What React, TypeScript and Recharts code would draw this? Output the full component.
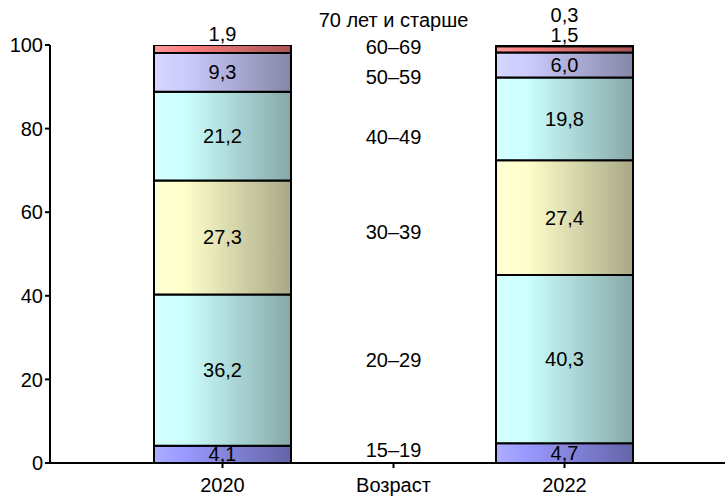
import React from 'react';
import {
  ComposedChart,
  Bar,
  XAxis,
  YAxis,
  ReferenceDot,
  LabelList
} from 'recharts';

// Categories on the x axis (the middle one only carries the age captions)
const YEARS = ['2020', 'Возраст', '2022'];
const AGE_GROUPS = ['15–19', '20–29', '30–39', '40–49', '50–59', '60–69', '70 лет и старше'];

// Share of each age group, %
const SHARE_2020 = [4.1, 36.2, 27.3, 21.2, 9.3, 1.9, null];
const SHARE_2022 = [4.7, 40.3, 27.4, 19.8, 6.0, 1.5, 0.3];

// Height (in % units) at which each age caption sits in the middle column
const AGE_CAPTION_LEVEL = [3.1, 24.6, 55.3, 78, 92.3, 99.5, 106];

const Y_TICKS = [0, 20, 40, 60, 80, 100];

// base / shaded colour for each segment
const SEGMENT_COLORS = [
  ['#9999ff', '#6464a8'],
  ['#ccffff', '#86a8a8'],
  ['#ffffcc', '#a8a886'],
  ['#ccffff', '#86a8a8'],
  ['#ccccff', '#8686a8'],
  ['#ff8080', '#a85454'],
  ['#ffcc99', '#a88664']
];

const FONT = '"Liberation Sans", Arial, sans-serif';
const FS = 20;

const data = YEARS.map((year, i) => {
  const row: Record<string, any> = { year };
  AGE_GROUPS.forEach((_, k) => {
    if (i === 0) row['g' + k] = SHARE_2020[k];
    if (i === 2) row['g' + k] = SHARE_2022[k];
  });
  return row;
});

const fmt = (v: number) => v.toFixed(1).replace('.', ',');

// small segments get their value written above the bar
const makeLabel = (k: number) => (props: any) => {
  const { x, y, width, height, value } = props;
  if (value === null || value === undefined) return null;
  let ty = y + height / 2;
  if (value < 3) ty = k === 6 ? y - 30 : y - 11;
  return (
    <text
      x={x + width / 2}
      y={ty}
      textAnchor="middle"
      dominantBaseline="central"
      fontSize={FS}
      fontFamily={FONT}
      fill="#000"
    >
      {fmt(value)}
    </text>
  );
};

export default function App() {
  return (
    <div style={{ position: 'absolute', left: 0, top: 0, background: '#fff' }}>
      <ComposedChart
        width={725}
        height={497}
        data={data}
        margin={{ top: 45, right: 0, bottom: 0, left: 0 }}
        barCategoryGap={0}
      >
        <defs>
          {SEGMENT_COLORS.map(([base, dark], k) => (
            <linearGradient key={k} id={'seg' + k} x1="0" y1="0" x2="1" y2="0">
              <stop offset="0%" stopColor={base} stopOpacity={0.8} />
              <stop offset="22%" stopColor={base} />
              <stop offset="100%" stopColor={dark} />
            </linearGradient>
          ))}
        </defs>
        <XAxis
          dataKey="year"
          height={34}
          padding={{ left: 87, right: 75 }}
          axisLine={{ stroke: '#000', strokeWidth: 2 }}
          tickLine={{ stroke: '#000', strokeWidth: 2 }}
          tickSize={5}
          tick={{ fill: '#000', fontSize: FS, fontFamily: FONT, dy: 8 }}
          interval={0}
        />
        <YAxis
          width={50}
          domain={[0, 100]}
          ticks={Y_TICKS}
          allowDataOverflow
          axisLine={{ stroke: '#000', strokeWidth: 2 }}
          tickLine={{ stroke: '#000', strokeWidth: 2 }}
          tickSize={5}
          tick={{ fill: '#000', fontSize: FS, fontFamily: FONT }}
        />
        {AGE_GROUPS.map((_, k) => (
          <Bar
            key={k}
            dataKey={'g' + k}
            stackId="a"
            barSize={137}
            fill={`url(#seg${k})`}
            stroke="#000"
            strokeWidth={2}
            isAnimationActive={false}
          >
            <LabelList dataKey={'g' + k} content={makeLabel(k)} />
          </Bar>
        ))}
        {AGE_GROUPS.map((name, k) => (
          <ReferenceDot
            key={'cap' + k}
            x="Возраст"
            y={AGE_CAPTION_LEVEL[k]}
            r={0}
            ifOverflow="visible"
            label={{
              value: name,
              position: 'center',
              fill: '#000',
              fontSize: FS,
              fontFamily: FONT
            }}
          />
        ))}
      </ComposedChart>
    </div>
  );
}
